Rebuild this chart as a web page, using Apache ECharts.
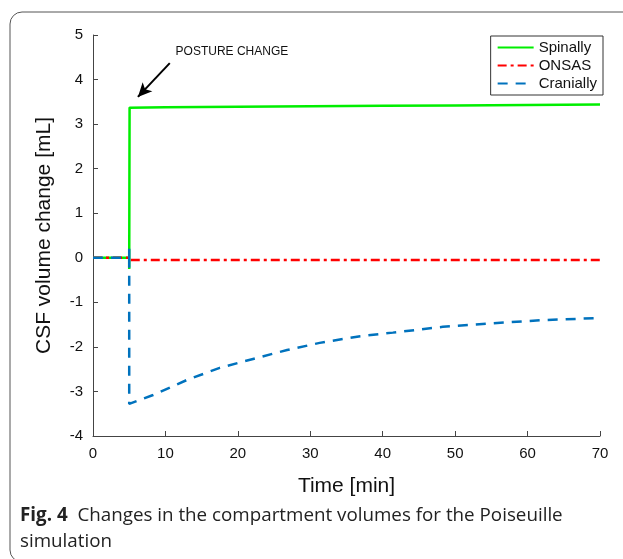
<!DOCTYPE html>
<html>
<head>
<meta charset="utf-8">
<script src="https://cdn.jsdelivr.net/npm/echarts@6/dist/echarts.min.js"></script>
<style>
    html, body { margin: 0; padding: 0; background: #fff; }
    #chart { width: 623px; height: 559px; }
</style>
</head>
<body>
<div id="chart"></div>
<script>
// [time (min), volume change (mL)]
const spinally = [[0, 0], [5, 0], [5, -0.25], [5.05, 3.37], [10, 3.38], [20, 3.39], [30, 3.4], [40, 3.41], [50, 3.42], [60, 3.43], [70, 3.44]];
const onsas = [[0, 0], [5, 0], [5, -0.05], [70, -0.05]];
const cranially = [[0, 0], [5, 0], [5, 0.2], [5, -3.28], [8.3, -3.08], [13, -2.74], [17.5, -2.47], [22.1, -2.27], [26.8, -2.07], [31.3, -1.91], [36.9, -1.76], [41.4, -1.68], [48.3, -1.55], [55.2, -1.47], [62.1, -1.4], [70, -1.35]];
const xTicks = [0, 70, 10];
const yTicks = [-4, 5, 1];
const arrowFrom = [10.6, 4.37];
const arrowTo = [6.2, 3.61];
const notePos = [11.4, 4.62];

const chart = echarts.init(document.getElementById("chart"));
const font = "Liberation Sans, Arial, sans-serif";

const axisCommon = {
    axisLine: { show: true, onZero: false, lineStyle: { color: "#444", width: 1 } },
    axisTick: { show: true, inside: true, length: 5, lineStyle: { color: "#444" } },
    splitLine: { show: false },
    axisLabel: { color: "#111", fontSize: 15, fontFamily: font, margin: 10 },
    nameTextStyle: { color: "#111", fontSize: 21, fontFamily: font },
};

const option = {
    animation: false,
    backgroundColor: "#fff",
    grid: { left: 93, right: 23, top: 35, bottom: 123, containLabel: false },
    legend: {
        right: 20,
        top: 36,
        orient: "vertical",
        itemWidth: 36,
        itemHeight: 10,
        itemGap: 3,
        padding: [4, 6, 4, 6],
        borderColor: "#333",
        borderWidth: 1,
        borderRadius: 0,
        itemStyle: { opacity: 0 },
        textStyle: { color: "#111", fontSize: 15, fontFamily: font },
        data: ["Spinally", "ONSAS", "Cranially"],
    },
    xAxis: Object.assign({}, axisCommon, {
        type: "value",
        min: xTicks[0],
        max: xTicks[1],
        interval: xTicks[2],
        name: "Time [min]",
        nameLocation: "middle",
        nameGap: 40,
    }),
    yAxis: Object.assign({}, axisCommon, {
        type: "value",
        min: yTicks[0],
        max: yTicks[1],
        interval: yTicks[2],
        name: "CSF volume change [mL]",
        nameLocation: "middle",
        nameGap: 38,
    }),
    series: [
        {
            name: "Spinally",
            type: "line",
            symbol: "none",
            color: "#00ee00",
            lineStyle: { color: "#00ee00", width: 2.5 },
            data: spinally,
            markLine: {
                silent: true,
                symbol: ["none", "arrow"],
                symbolSize: [10, 14],
                label: { show: false },
                lineStyle: { color: "#000", width: 2, type: "solid" },
                data: [[{ coord: arrowFrom }, { coord: arrowTo }]],
            },
            markPoint: {
                silent: true,
                symbol: "circle",
                symbolSize: 0,
                label: {
                    show: true,
                    position: "right",
                    distance: 0,
                    formatter: "POSTURE CHANGE",
                    color: "#111",
                    fontSize: 12,
                    fontFamily: font,
                },
                data: [{ coord: notePos }],
            },
        },
        {
            name: "ONSAS",
            type: "line",
            symbol: "none",
            color: "#ff0000",
            lineStyle: { color: "#ff0000", width: 2.5, type: [9, 4, 3, 4] },
            data: onsas,
        },
        {
            name: "Cranially",
            type: "line",
            symbol: "none",
            color: "#0072bd",
            lineStyle: { color: "#0072bd", width: 2.5, type: [10, 8] },
            data: cranially,
        },
    ],
    graphic: [
        {
            type: "rect",
            shape: { x: 10, y: 12, width: 700, height: 550, r: 12 },
            style: { fill: "none", stroke: "#555", lineWidth: 1 },
            silent: true,
        },
        {
            type: "text",
            left: 20,
            top: 503,
            style: {
                text: "{b|Fig. 4}  Changes in the compartment volumes for the Poiseuille\nsimulation",
                fontSize: 18.8,
                fontFamily: "Open Sans, Noto Sans, sans-serif",
                fill: "#222",
                lineHeight: 26,
                rich: {
                    b: { fontWeight: "bold", fontSize: 18.8, fontFamily: "Open Sans, Noto Sans, sans-serif", fill: "#222" },
                },
            },
        },
    ],
};

chart.setOption(option);
</script>
</body>
</html>
